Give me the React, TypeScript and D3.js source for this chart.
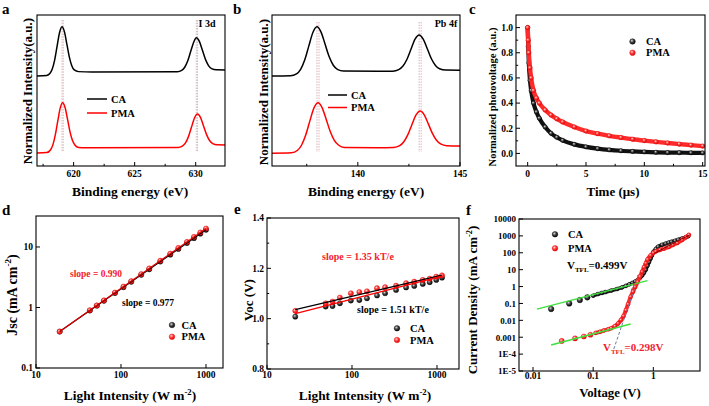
import React from "react";
import * as d3 from "d3";

type P = [number, number];
const SERIF = "'Liberation Serif','Times New Roman',serif";
const RED = "#ff0000";
const TRED = "#f4222e";

// ---------- Panel a : I 3d XPS ----------
const aCA: P[] = [[617.0,0.596],[617.8,0.600],[618.05,0.612],[618.25,0.642],[618.45,0.703],[618.65,0.795],[618.85,0.884],[619.05,0.922],[619.25,0.888],[619.45,0.805],[619.65,0.721],[619.85,0.664],[620.05,0.636],[620.4,0.625],[621.5,0.623],[628.5,0.624],[628.85,0.633],[629.1,0.654],[629.35,0.697],[629.6,0.761],[629.85,0.823],[630.05,0.850],[630.3,0.825],[630.55,0.766],[630.8,0.706],[631.05,0.665],[631.3,0.645],[631.7,0.637],[632.4,0.636]];
const aPMA: P[] = [[617.0,0.086],[617.8,0.089],[618.1,0.106],[618.3,0.140],[618.5,0.206],[618.7,0.297],[618.9,0.383],[619.1,0.419],[619.3,0.387],[619.5,0.310],[619.7,0.228],[619.9,0.170],[620.1,0.139],[620.4,0.123],[621.0,0.121],[628.55,0.122],[628.9,0.131],[629.15,0.151],[629.4,0.193],[629.65,0.256],[629.9,0.318],[630.15,0.344],[630.4,0.320],[630.65,0.263],[630.9,0.206],[631.15,0.167],[631.4,0.148],[631.75,0.140],[632.4,0.139]];
const aPeakCA = [619.05, 630.05];
const aPeakPMA = [619.15, 630.15];
const aMajor = [620, 625, 630];
const aMinor = [617.5, 622.5, 627.5];

// ---------- Panel b : Pb 4f XPS ----------
const bCA: P[] = [[135.8,0.596],[136.7,0.598],[137.0,0.610],[137.2,0.640],[137.4,0.702],[137.6,0.794],[137.8,0.884],[138.0,0.922],[138.2,0.887],[138.4,0.806],[138.6,0.723],[138.8,0.667],[139.0,0.640],[139.3,0.629],[141.0,0.627],[141.7,0.628],[142.0,0.638],[142.2,0.660],[142.4,0.705],[142.6,0.773],[142.8,0.840],[143.0,0.868],[143.2,0.840],[143.4,0.776],[143.6,0.710],[143.8,0.666],[144.0,0.644],[144.3,0.635],[145.0,0.634]];
const bPMA: P[] = [[135.8,0.084],[136.75,0.087],[137.05,0.104],[137.25,0.139],[137.45,0.205],[137.65,0.297],[137.85,0.383],[138.05,0.419],[138.25,0.387],[138.45,0.310],[138.65,0.228],[138.85,0.170],[139.05,0.139],[139.35,0.123],[141.0,0.121],[141.75,0.123],[142.05,0.135],[142.25,0.161],[142.45,0.208],[142.65,0.275],[142.85,0.338],[143.05,0.364],[143.25,0.339],[143.45,0.279],[143.65,0.216],[143.85,0.170],[144.05,0.146],[144.35,0.134],[145.0,0.132]];
const bPeakCA = [138.0, 143.0];
const bPeakPMA = [138.1, 143.1];
const bMajor = [140, 145];
const bMinor = [137.5, 142.5];

// ---------- Panel c : transient photovoltage ----------
const cT = [0, 0.05, 0.1, 0.2, 0.3, 0.5, 0.75, 1, 1.5, 2, 2.5, 3, 4, 5, 6, 7, 8, 9, 10, 11, 12, 13, 14, 15];
const cCA = [1.0, 0.85, 0.72, 0.58, 0.5, 0.4, 0.33, 0.28, 0.21, 0.16, 0.128, 0.104, 0.072, 0.052, 0.038, 0.028, 0.021, 0.016, 0.012, 0.009, 0.007, 0.006, 0.005, 0.004];
const cPMA = [1.0, 0.9, 0.8, 0.68, 0.6, 0.5, 0.44, 0.4, 0.345, 0.305, 0.275, 0.25, 0.21, 0.178, 0.157, 0.14, 0.126, 0.113, 0.102, 0.092, 0.083, 0.074, 0.066, 0.058];
const cXMajor = [0, 5, 10, 15];
const cXMinor = [2.5, 7.5, 12.5];
const cYMajor = [0, 0.2, 0.4, 0.6, 0.8, 1.0];
const cYMinor = [0.1, 0.3, 0.5, 0.7, 0.9];

// ---------- Panel d : Jsc vs light intensity ----------
const dI = [19, 43, 52, 63, 85, 107, 132, 173, 215, 290, 380, 473, 597, 722, 858, 1000];
const dCA = [0.40, 0.89, 1.07, 1.29, 1.73, 2.16, 2.66, 3.46, 4.28, 5.74, 7.47, 9.25, 11.6, 14.0, 16.6, 19.2];
const dPMA = [0.40, 0.90, 1.08, 1.31, 1.77, 2.22, 2.73, 3.56, 4.42, 5.94, 7.77, 9.64, 12.1, 14.7, 17.4, 20.2];
const logX = [10, 100, 1000];
const dY = [0.1, 1, 10];

// ---------- Panel e : Voc vs light intensity ----------
const eI = [21.5, 49, 59, 72, 97, 122, 150, 197, 245, 330, 433, 540, 680, 820, 980, 1145];
const eCA = [1.008, 1.048, 1.050, 1.061, 1.072, 1.074, 1.081, 1.092, 1.101, 1.114, 1.124, 1.130, 1.138, 1.145, 1.154, 1.163];
const ePMA = [1.031, 1.061, 1.068, 1.084, 1.101, 1.106, 1.109, 1.121, 1.125, 1.131, 1.141, 1.147, 1.154, 1.159, 1.167, 1.172];
const eFitCA: P[] = [[21.5, 1.036], [1145, 1.173]];
const eFitPMA: P[] = [[21.5, 1.020], [1145, 1.169]];
const eYMajor = [0.8, 1.0, 1.2, 1.4];
const eYMinor = [0.9, 1.1, 1.3];

// ---------- Panel f : SCLC ----------
const fCA: P[] = [[0.02,0.047],[0.04,0.10],[0.06,0.16],[0.08,0.23],[0.1,0.29],[0.12,0.36],[0.14,0.42],[0.16,0.47],[0.2,0.58],[0.25,0.72],[0.3,0.88],[0.35,1.1],[0.4,1.35],[0.45,1.65],[0.5,2.0],[0.55,2.5],[0.6,3.3],[0.65,4.5],[0.7,6.5],[0.75,10],[0.8,17],[0.85,28],[0.9,45],[0.95,70],[1.0,110],[1.1,170],[1.2,230],[1.4,300],[1.6,350],[1.8,400],[2.0,450],[2.3,520],[2.6,600],[3.0,700],[3.4,800],[3.8,950]];
const fPMA: P[] = [[0.03,0.0006],[0.05,0.00085],[0.07,0.0011],[0.09,0.0014],[0.11,0.0018],[0.13,0.0021],[0.15,0.0025],[0.18,0.003],[0.2,0.0034],[0.23,0.0045],[0.26,0.0065],[0.29,0.0105],[0.32,0.018],[0.35,0.04],[0.38,0.09],[0.42,0.25],[0.46,0.5],[0.5,0.95],[0.55,1.9],[0.6,3.9],[0.65,7.5],[0.7,14],[0.75,24],[0.8,40],[0.9,70],[1.0,100],[1.1,120],[1.3,150],[1.5,175],[1.8,220],[2.1,290],[2.5,380],[3.0,570],[3.5,850],[3.9,1150]];
const fGreenCA: P[] = [[0.0116, 0.046], [0.8, 2.24]];
const fGreenPMA: P[] = [[0.020, 0.00035], [0.42, 0.0061]];
const fSteepPMA: P[] = [[0.22, 0.0002], [0.5, 1.0]];
const fSteepCA: P[] = [[0.43, 0.6], [0.56, 5]];
const fChild: P[] = [[1.05, 95], [3.9, 1100]];
const fXMajor = [0.01, 0.1, 1];
const fXLabels = ["0.01", "0.1", "1"];
const fYMajor = [1e4, 1e3, 1e2, 10, 1, 0.1, 0.01, 0.001, 1e-4, 1e-5];
const fYLabels = ["10000", "1000", "100", "10", "1", "0.1", "0.01", "0.001", "1E-4", "1E-5"];

const B = (p: any) => <text fontFamily={SERIF} fontWeight="bold" {...p} />;

function Frame({ x0, x1, y0, y1 }: any) {
  return <rect x={x0} y={y0} width={x1 - x0} height={y1 - y0} fill="none" stroke="#000" strokeWidth={1.1} />;
}
function BottomTicks({ sc, y, major, minor = [], labels, fs = 9.5, ly }: any) {
  return (
    <g>
      {major.map((v: number, i: number) => (
        <g key={"M" + i}>
          <line x1={sc(v)} x2={sc(v)} y1={y} y2={y - 4} stroke="#000" />
          {labels && <B x={sc(v)} y={ly} fontSize={fs} textAnchor="middle">{labels[i]}</B>}
        </g>
      ))}
      {minor.map((v: number, i: number) => (
        <line key={"m" + i} x1={sc(v)} x2={sc(v)} y1={y} y2={y - 2.2} stroke="#000" />
      ))}
    </g>
  );
}
function LeftTicks({ sc, x, major, minor = [], labels, fs = 9.5 }: any) {
  return (
    <g>
      {major.map((v: number, i: number) => (
        <g key={"M" + i}>
          <line x1={x} x2={x + 4} y1={sc(v)} y2={sc(v)} stroke="#000" />
          <B x={x - 3} y={sc(v) + 3.3} fontSize={fs} textAnchor="end">{labels[i]}</B>
        </g>
      ))}
      {minor.map((v: number, i: number) => (
        <line key={"m" + i} x1={x} x2={x + 2.2} y1={sc(v)} y2={sc(v)} stroke="#000" />
      ))}
    </g>
  );
}
function YTitle({ x, y, fs, children }: any) {
  return (
    <B transform={`translate(${x},${y}) rotate(-90)`} fontSize={fs} textAnchor="middle">{children}</B>
  );
}
const Sup = ({ t, fs }: any) => (
  <>
    <tspan dy={-fs * 0.4} fontSize={fs * 0.65}>{t}</tspan>
    <tspan dy={fs * 0.4}>)</tspan>
  </>
);

function Dot({ cx, cy, r = 2.6, k }: any) {
  return <circle cx={cx} cy={cy} r={r} fill={k ? "url(#sphK)" : "url(#sphR)"} stroke={k ? "#000" : "#e01010"} strokeWidth={0.4} />;
}

export default function App() {
  const ax = d3.scaleLinear().domain([617, 632.4]).range([37, 225]);
  const ay = d3.scaleLinear().domain([0, 1]).range([166, 15]);
  const aLine = d3.line<P>().x(d => ax(d[0])).y(d => ay(d[1])).curve(d3.curveMonotoneX);
  const bx = d3.scaleLinear().domain([135.8, 145]).range([272, 460]);
  const by = d3.scaleLinear().domain([0, 1]).range([166, 15]);
  const bLine = d3.line<P>().x(d => bx(d[0])).y(d => by(d[1])).curve(d3.curveMonotoneX);
  const cx = d3.scaleLinear().domain([-1, 15.2]).range([516, 705]);
  const cy = d3.scaleLinear().domain([-0.1, 1.1]).range([166, 15]);
  const cLine = d3.line<number>().x((_, i) => cx(cT[i])).y(d => cy(d)).curve(d3.curveMonotoneX);
  const dx = d3.scaleLog().domain([10, 1585]).range([36, 223]);
  const dy = d3.scaleLog().domain([0.1, 32.5]).range([368, 216]);
  const ex = d3.scaleLog().domain([10, 1815]).range([267, 459]);
  const ey = d3.scaleLinear().domain([0.8, 1.4]).range([369, 218]);
  const fx = d3.scaleLog().domain([0.00585, 5.97]).range([519, 700]);
  const fy = d3.scaleLog().domain([1e-5, 1e4]).range([371, 219]);
  const fLine = d3.line<P>().x(d => fx(d[0])).y(d => fy(d[1])).curve(d3.curveMonotoneX);
  const fStraight = d3.line<P>().x(d => fx(d[0])).y(d => fy(d[1]));

  const nI = dI.length - 1;

  return (
    <svg width={709} height={406} style={{ position: "absolute", left: 0, top: 0, background: "#fff" }}>
      <defs>
        <radialGradient id="sphK" cx="38%" cy="35%" r="70%">
          <stop offset="0" stopColor="#d8d8d8" />
          <stop offset="0.45" stopColor="#444" />
          <stop offset="1" stopColor="#000" />
        </radialGradient>
        <radialGradient id="sphR" cx="38%" cy="35%" r="70%">
          <stop offset="0" stopColor="#ffd6d6" />
          <stop offset="0.45" stopColor="#ff3838" />
          <stop offset="1" stopColor="#e00000" />
        </radialGradient>
      </defs>
      <rect x={0} y={0} width={709} height={406} fill="#fff" />

      {/* ================= a ================= */}
      <B x={2} y={14} fontSize={15}>a</B>
      {aPeakCA.map((p, i) => (
        <line key={"ac" + i} x1={ax(p)} x2={ax(p)} y1={20} y2={152} stroke="#c8b4b4" strokeWidth={0.9} strokeDasharray="1.5,1.2" />
      ))}
      {aPeakPMA.map((p, i) => (
        <line key={"ap" + i} x1={ax(p)} x2={ax(p)} y1={20} y2={152} stroke="#f4a2a8" strokeWidth={0.9} strokeDasharray="1.5,1.2" />
      ))}
      <path d={aLine(aCA) || ""} fill="none" stroke="#000" strokeWidth={1.5} />
      <path d={aLine(aPMA) || ""} fill="none" stroke={RED} strokeWidth={1.5} />
      <Frame x0={37} x1={225} y0={15} y1={166} />
      <BottomTicks sc={ax} y={166} major={aMajor} minor={aMinor} labels={aMajor.map(String)} ly={177} />
      <B x={207} y={27} fontSize={10} textAnchor="middle">I 3d</B>
      <line x1={87} x2={107} y1={99} y2={99} stroke="#000" strokeWidth={1.5} />
      <B x={111} y={102.5} fontSize={10.5}>CA</B>
      <line x1={87} x2={107} y1={113} y2={113} stroke={RED} strokeWidth={1.5} />
      <B x={111} y={116.5} fontSize={10.5}>PMA</B>
      <B x={130} y={196} fontSize={13.5} textAnchor="middle">Binding energy (eV)</B>
      <YTitle x={32} y={91} fs={13}>Normalized Intensity(a.u.)</YTitle>

      {/* ================= b ================= */}
      <B x={233} y={14} fontSize={15}>b</B>
      {bPeakCA.map((p, i) => (
        <line key={"bc" + i} x1={bx(p)} x2={bx(p)} y1={22} y2={152} stroke="#b8b8c0" strokeWidth={0.9} strokeDasharray="1.5,1.2" />
      ))}
      {bPeakPMA.map((p, i) => (
        <line key={"bp" + i} x1={bx(p)} x2={bx(p)} y1={22} y2={152} stroke="#f4a2a8" strokeWidth={0.9} strokeDasharray="1.5,1.2" />
      ))}
      <path d={bLine(bCA) || ""} fill="none" stroke="#000" strokeWidth={1.5} />
      <path d={bLine(bPMA) || ""} fill="none" stroke={RED} strokeWidth={1.5} />
      <Frame x0={272} x1={460} y0={15} y1={166} />
      <BottomTicks sc={bx} y={166} major={bMajor} minor={bMinor} labels={bMajor.map(String)} ly={177} />
      <B x={446} y={27} fontSize={10} textAnchor="middle">Pb 4f</B>
      <line x1={328} x2={347} y1={95} y2={95} stroke="#000" strokeWidth={1.5} />
      <B x={351} y={98.5} fontSize={10.5}>CA</B>
      <line x1={328} x2={347} y1={107.5} y2={107.5} stroke={RED} strokeWidth={1.5} />
      <B x={351} y={111} fontSize={10.5}>PMA</B>
      <B x={366} y={196} fontSize={13.5} textAnchor="middle">Binding energy (eV)</B>
      <YTitle x={268} y={92} fs={13}>Normalized Intensity(a.u.)</YTitle>

      {/* ================= c ================= */}
      <B x={469} y={14} fontSize={15}>c</B>
      <path d={cLine(cCA) || ""} fill="none" stroke="#111" strokeWidth={4.2} strokeLinecap="round" />
      {cCA.map((v, i) => <Dot key={"cc" + i} cx={cx(cT[i])} cy={cy(v)} r={2.2} k />)}
      <path d={cLine(cPMA) || ""} fill="none" stroke="#ff2a2a" strokeWidth={4.4} strokeLinecap="round" />
      {cPMA.map((v, i) => <Dot key={"cp" + i} cx={cx(cT[i])} cy={cy(v)} r={2.3} />)}
      <Frame x0={516} x1={705} y0={15} y1={166} />
      <BottomTicks sc={cx} y={166} major={cXMajor} minor={cXMinor} labels={cXMajor.map(String)} ly={177} />
      <LeftTicks sc={cy} x={516} major={cYMajor} minor={cYMinor} labels={cYMajor.map(v => v.toFixed(1))} />
      <Dot cx={632.5} cy={41.5} r={2.8} k />
      <B x={646} y={45} fontSize={10.5}>CA</B>
      <Dot cx={632.5} cy={52.7} r={2.8} />
      <B x={646} y={56.2} fontSize={10.5}>PMA</B>
      <B x={613} y={196} fontSize={13} textAnchor="middle">Time (μs)</B>
      <YTitle x={496} y={97} fs={10.5}>Normalized photovoltage (a.u.)</YTitle>

      {/* ================= d ================= */}
      <B x={2} y={215} fontSize={15}>d</B>
      {dCA.map((v, i) => <Dot key={"dc" + i} cx={dx(dI[i])} cy={dy(v)} r={2.6} k />)}
      {dPMA.map((v, i) => <Dot key={"dp" + i} cx={dx(dI[i])} cy={dy(v)} r={2.6} />)}
      <line x1={dx(dI[0])} y1={dy(dCA[0])} x2={dx(dI[nI])} y2={dy(dCA[nI])} stroke="#000" strokeWidth={1.2} />
      <line x1={dx(dI[0])} y1={dy(dPMA[0])} x2={dx(dI[nI])} y2={dy(dPMA[nI])} stroke="#e00000" strokeWidth={1.2} />
      <Frame x0={36} x1={223} y0={216} y1={368} />
      <BottomTicks sc={dx} y={368} major={logX} labels={logX.map(String)} ly={378} />
      <LeftTicks sc={dy} x={36} major={dY} labels={dY.map(String)} />
      <B x={70} y={277} fontSize={9.5} fill={TRED}>slope = 0.990</B>
      <B x={122} y={306} fontSize={9.5}>slope = 0.977</B>
      <Dot cx={172} cy={325} r={2.8} k />
      <B x={181.5} y={328.5} fontSize={10.5}>CA</B>
      <Dot cx={172} cy={336.7} r={2.8} />
      <B x={181.5} y={340.2} fontSize={10.5}>PMA</B>
      <B x={130} y={400} fontSize={13.4} textAnchor="middle">Light Intensity (W m<Sup t="-2" fs={13.4} /></B>
      <YTitle x={17} y={295} fs={14}>Jsc (mA cm<Sup t="-2" fs={14} /></YTitle>

      {/* ================= e ================= */}
      <B x={234} y={214} fontSize={15}>e</B>
      {eCA.map((v, i) => <Dot key={"ec" + i} cx={ex(eI[i])} cy={ey(v)} r={2.6} k />)}
      {ePMA.map((v, i) => <Dot key={"ep" + i} cx={ex(eI[i])} cy={ey(v)} r={2.6} />)}
      <line x1={ex(eFitCA[0][0])} y1={ey(eFitCA[0][1])} x2={ex(eFitCA[1][0])} y2={ey(eFitCA[1][1])} stroke="#000" strokeWidth={1.3} />
      <line x1={ex(eFitPMA[0][0])} y1={ey(eFitPMA[0][1])} x2={ex(eFitPMA[1][0])} y2={ey(eFitPMA[1][1])} stroke={RED} strokeWidth={1.3} />
      <Frame x0={267} x1={459} y0={218} y1={369} />
      <BottomTicks sc={ex} y={369} major={logX} labels={logX.map(String)} ly={378} />
      <LeftTicks sc={ey} x={267} major={eYMajor} minor={eYMinor} labels={eYMajor.map(v => v.toFixed(1))} />
      <B x={322} y={259.5} fontSize={10} fill={TRED}>slope = 1.35 kT/e</B>
      <B x={357} y={312.5} fontSize={10}>slope = 1.51 kT/e</B>
      <Dot cx={397} cy={328.3} r={2.8} k />
      <B x={410} y={331.8} fontSize={10.5}>CA</B>
      <Dot cx={397} cy={340} r={2.8} />
      <B x={410} y={343.5} fontSize={10.5}>PMA</B>
      <B x={365} y={400} fontSize={13.4} textAnchor="middle">Light Intensity (W m<Sup t="-2" fs={13.4} /></B>
      <YTitle x={253} y={300} fs={13}>Voc (V)</YTitle>

      {/* ================= f ================= */}
      <B x={466} y={215} fontSize={15}>f</B>
      <path d={fLine(fCA.slice(4)) || ""} fill="none" stroke="#222" strokeWidth={3.6} strokeLinecap="round" />
      {fCA.map((d, i) => <Dot key={"fc" + i} cx={fx(d[0])} cy={fy(d[1])} r={i < 4 ? 2.8 : 2.0} k />)}
      <path d={fLine(fPMA.slice(4)) || ""} fill="none" stroke="#ff2a2a" strokeWidth={4} strokeLinecap="round" />
      {fPMA.map((d, i) => <Dot key={"fp" + i} cx={fx(d[0])} cy={fy(d[1])} r={i < 4 ? 2.6 : 2.0} />)}
      <path d={fStraight(fChild) || ""} fill="none" stroke="#600" strokeWidth={0.9} />
      <path d={fStraight(fGreenCA) || ""} fill="none" stroke="#3ee03e" strokeWidth={1.5} />
      <path d={fStraight(fGreenPMA) || ""} fill="none" stroke="#3ee03e" strokeWidth={1.5} />
      <path d={fStraight(fSteepPMA) || ""} fill="none" stroke="#6a7fa8" strokeWidth={1} strokeDasharray="3,2" />
      <path d={fStraight(fSteepCA) || ""} fill="none" stroke="#d04040" strokeWidth={1} strokeDasharray="3,2" />
      <Frame x0={519} x1={700} y0={219} y1={371} />
      <BottomTicks sc={fx} y={371} major={fXMajor} labels={fXLabels} ly={379} />
      <LeftTicks sc={fy} x={519} major={fYMajor} labels={fYLabels} fs={9} />
      <Dot cx={555} cy={234.3} r={2.8} k />
      <B x={568} y={237.8} fontSize={10.5}>CA</B>
      <Dot cx={555} cy={248.3} r={2.8} />
      <B x={568} y={251.8} fontSize={10.5}>PMA</B>
      <B x={567} y={268.5} fontSize={11}>
        V<tspan fontSize={7} dy={3}>TFL</tspan><tspan dy={-3}>=0.499V</tspan>
      </B>
      <B x={603} y={350.5} fontSize={11} fill={TRED}>
        V<tspan fontSize={7} dy={3}>TFL</tspan><tspan dy={-3}>=0.298V</tspan>
      </B>
      <B x={610} y={397} fontSize={12.8} textAnchor="middle">Voltage (V)</B>
      <YTitle x={477} y={300} fs={13}>Current Density (mA cm<Sup t="-2" fs={13} /></YTitle>
    </svg>
  );
}
